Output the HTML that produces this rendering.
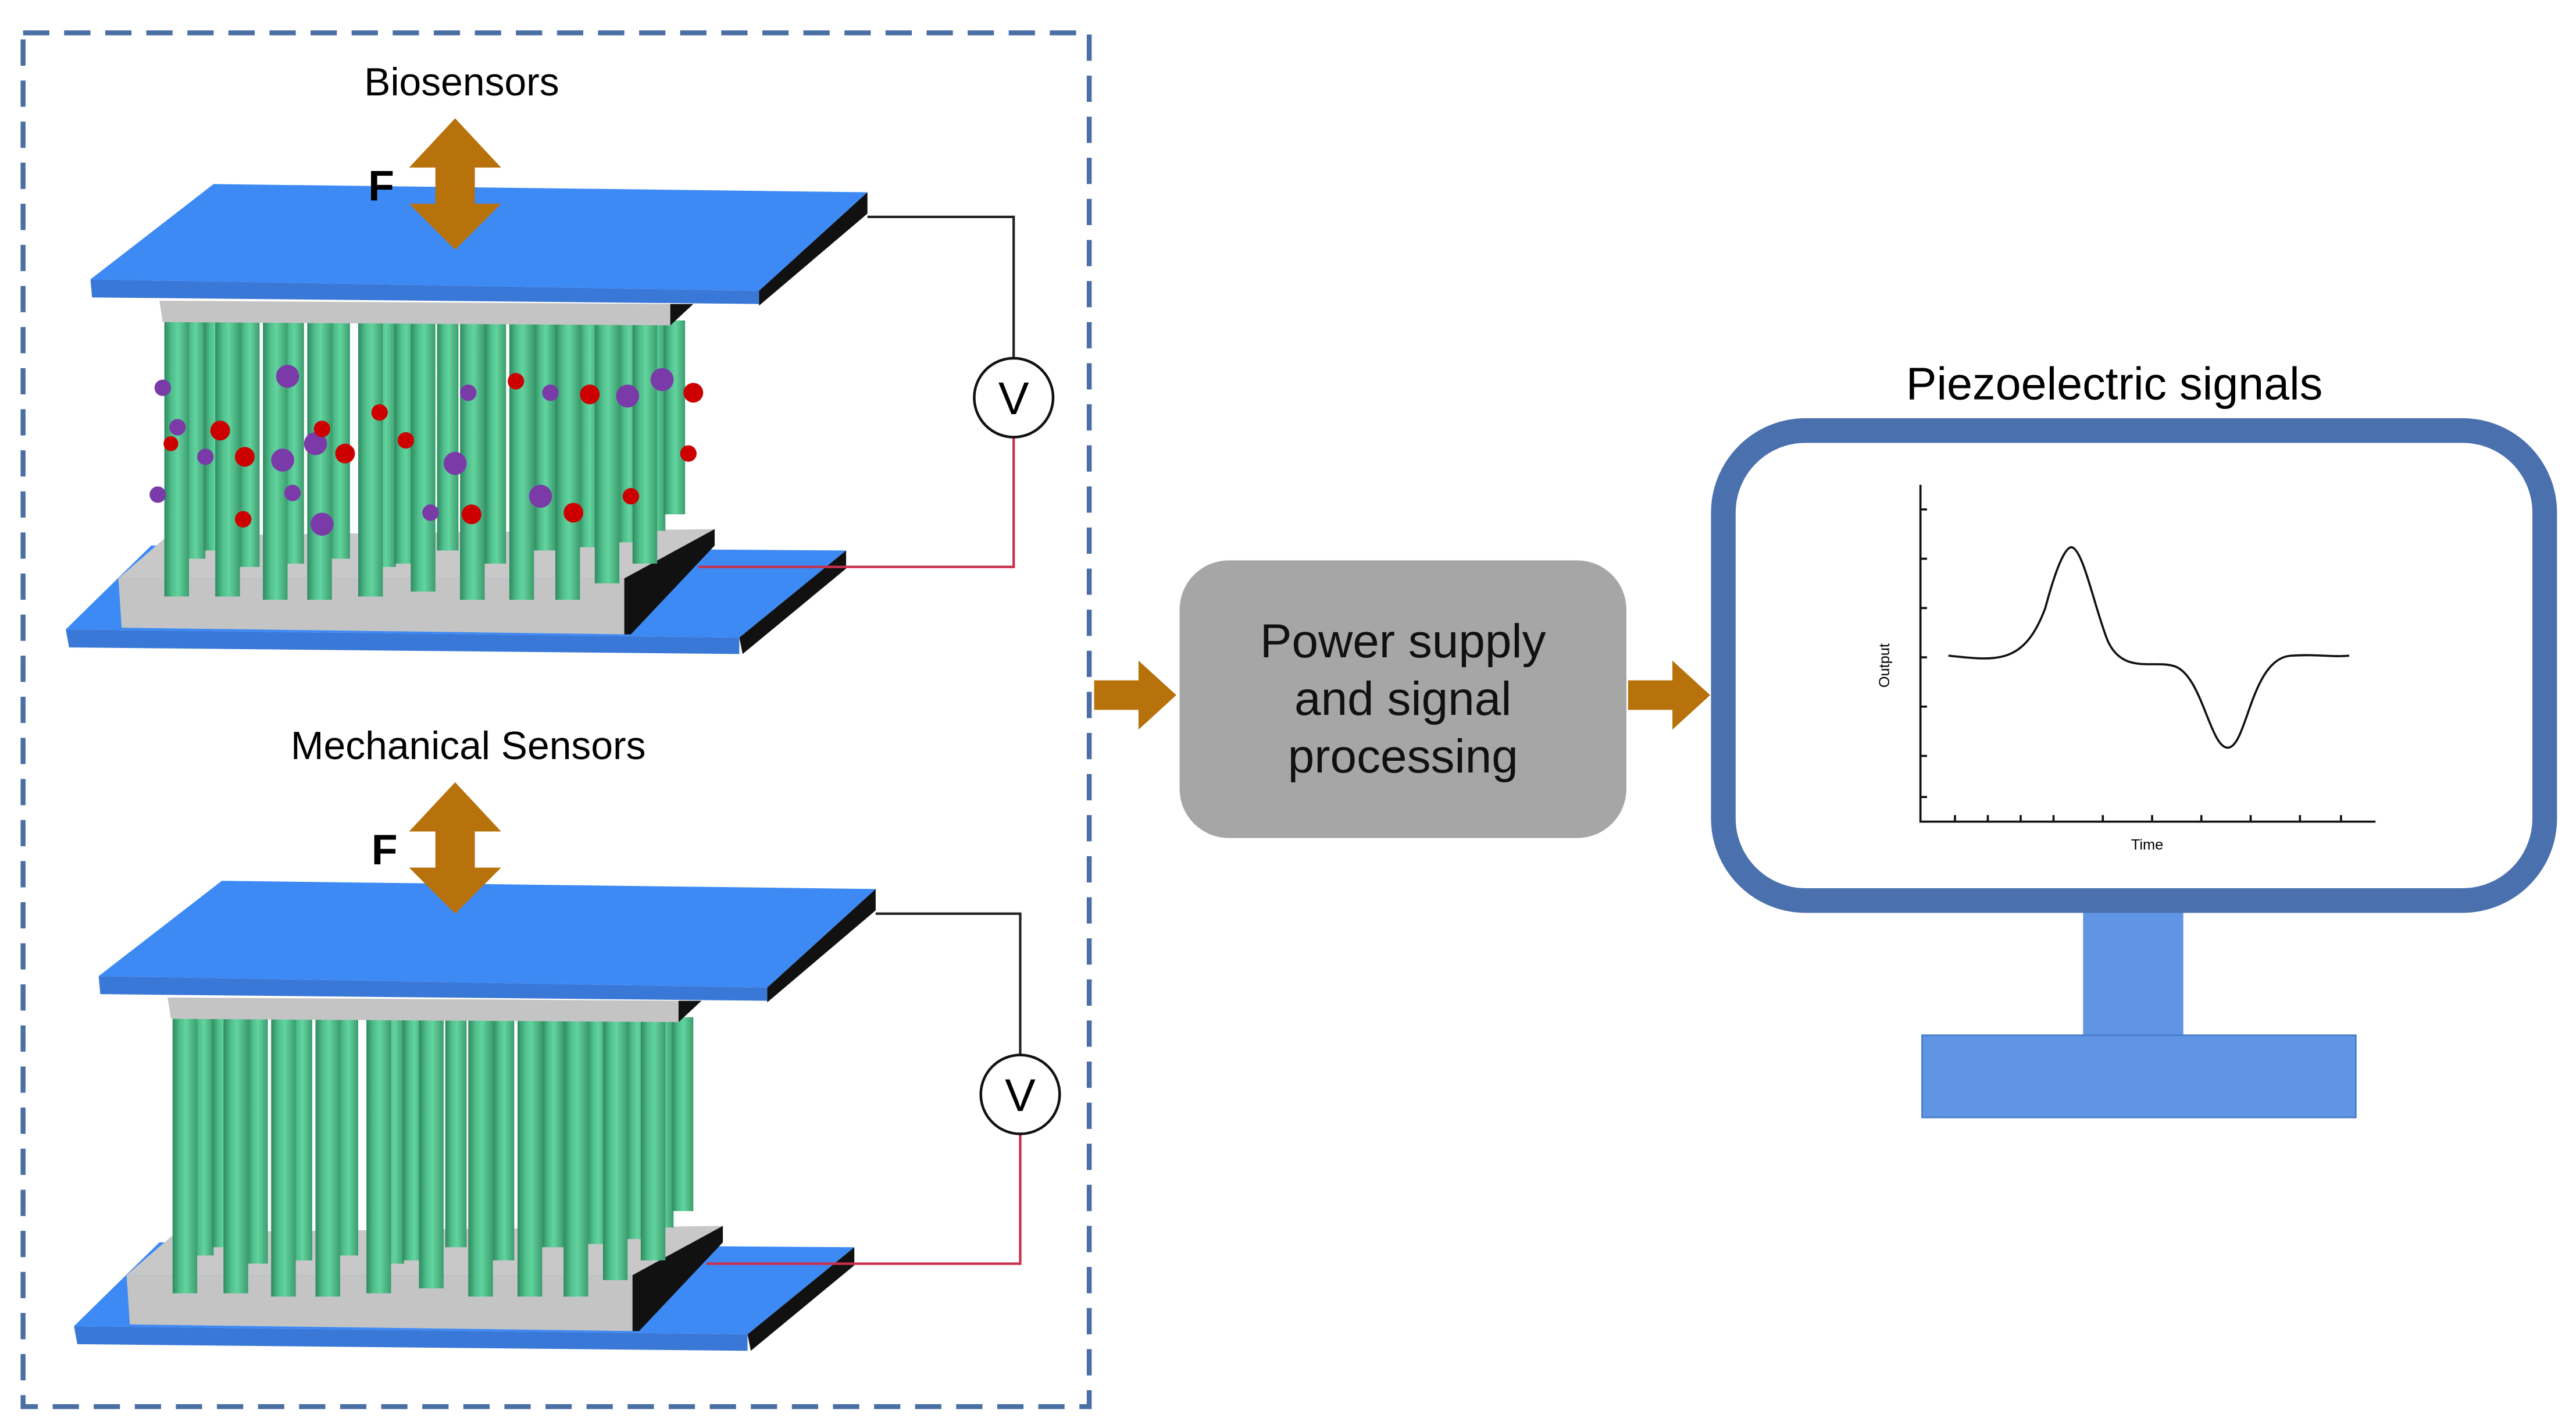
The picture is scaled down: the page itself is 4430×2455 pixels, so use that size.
<!DOCTYPE html>
<html><head><meta charset="utf-8"><style>
html,body{margin:0;padding:0;background:#fff;}
svg{display:block;}
text{font-family:"Liberation Sans",sans-serif;}
</style></head><body>
<svg width="4430" height="2455" viewBox="0 0 1568 869" xmlns="http://www.w3.org/2000/svg">
<defs>
<linearGradient id="rod" x1="0" x2="1" y1="0" y2="0">
<stop offset="0" stop-color="#2f8a5f"/><stop offset="0.3" stop-color="#4fbf8c"/><stop offset="0.55" stop-color="#62d49e"/><stop offset="1" stop-color="#3c9c6e"/>
</linearGradient>
<g id="dev">
<polygon points="40,383 92,332 515,335 450,388" fill="#3d8af5"/>
<polygon points="40,383 450,388 450,398 42,394" fill="#3a78d8"/>
<polygon points="450,388 515,335 515,346 452,398" fill="#111"/>
<polygon points="72,352 102,326 435,322 380,352" fill="#c8c8c8"/>
<polygon points="72,352 380,352 380,386 74,382" fill="#c4c4c4"/>
<polygon points="380,352 435,322 435,332 384,386 380,386" fill="#111"/>
<g fill="url(#rod)">
<rect x="112" y="195" width="13" height="145"/><rect x="124" y="195" width="13" height="140"/><rect x="145" y="195" width="13" height="150"/>
<rect x="172" y="195" width="13" height="148"/><rect x="200" y="195" width="13" height="145"/>
<rect x="228" y="195" width="13" height="150"/>
<rect x="240" y="195" width="13" height="148"/><rect x="266" y="195" width="13" height="140"/>
<rect x="295" y="195" width="13" height="148"/><rect x="325" y="195" width="13" height="140"/>
<rect x="352" y="195" width="13" height="138"/><rect x="376" y="195" width="13" height="135"/><rect x="392" y="195" width="13" height="128"/>
<rect x="404" y="195" width="13" height="118"/>
<rect x="100" y="195" width="15" height="168"/><rect x="131" y="195" width="15" height="168"/>
<rect x="160" y="195" width="15" height="170"/><rect x="187" y="195" width="15" height="170"/>
<rect x="218" y="195" width="15" height="168"/><rect x="250" y="195" width="15" height="165"/>
<rect x="280" y="195" width="15" height="170"/><rect x="310" y="195" width="15" height="170"/>
<rect x="338" y="195" width="15" height="170"/><rect x="362" y="195" width="15" height="160"/>
<rect x="385" y="195" width="15" height="148"/>
</g>
<polygon points="97,183 410,185 408,198 99,196" fill="#c4c4c4"/>
<polygon points="408,185 422,185 408,198" fill="#111"/>
<polygon points="55,170 130,112 528,117 462,177" fill="#3d8af5"/>
<polygon points="55,170 462,177 462,185 56,181" fill="#3a78d8"/>
<polygon points="462,177 528,117 528,130 462,186" fill="#111"/>
</g>
</defs>

<rect x="14" y="20" width="649" height="836" fill="none" stroke="#4a6fa5" stroke-width="3" stroke-dasharray="16,9"/>

<text x="281" y="58" font-size="24" text-anchor="middle">Biosensors</text>
<use href="#dev"/>
<g>
<circle cx="175" cy="229" r="7" fill="#7a3aa8"/><circle cx="99" cy="236" r="5" fill="#7a3aa8"/>
<circle cx="108" cy="260" r="5" fill="#7a3aa8"/><circle cx="104" cy="270" r="4.5" fill="#cc0000"/>
<circle cx="134" cy="262" r="6" fill="#cc0000"/><circle cx="125" cy="278" r="5" fill="#7a3aa8"/>
<circle cx="149" cy="278" r="6" fill="#cc0000"/><circle cx="172" cy="280" r="7" fill="#7a3aa8"/>
<circle cx="192" cy="270" r="7" fill="#7a3aa8"/><circle cx="196" cy="261" r="5" fill="#cc0000"/>
<circle cx="210" cy="276" r="6" fill="#cc0000"/><circle cx="231" cy="251" r="5" fill="#cc0000"/>
<circle cx="247" cy="268" r="5" fill="#cc0000"/><circle cx="277" cy="282" r="7" fill="#7a3aa8"/>
<circle cx="285" cy="239" r="5" fill="#7a3aa8"/><circle cx="314" cy="232" r="5" fill="#cc0000"/>
<circle cx="335" cy="239" r="5" fill="#7a3aa8"/><circle cx="359" cy="240" r="6" fill="#cc0000"/>
<circle cx="382" cy="241" r="7" fill="#7a3aa8"/><circle cx="403" cy="231" r="7" fill="#7a3aa8"/>
<circle cx="422" cy="239" r="6" fill="#cc0000"/><circle cx="419" cy="276" r="5" fill="#cc0000"/>
<circle cx="96" cy="301" r="5" fill="#7a3aa8"/><circle cx="148" cy="316" r="5" fill="#cc0000"/>
<circle cx="178" cy="300" r="5" fill="#7a3aa8"/><circle cx="196" cy="319" r="7" fill="#7a3aa8"/>
<circle cx="262" cy="312" r="5" fill="#7a3aa8"/><circle cx="287" cy="313" r="6" fill="#cc0000"/>
<circle cx="329" cy="302" r="7" fill="#7a3aa8"/><circle cx="349" cy="312" r="6" fill="#cc0000"/>
<circle cx="384" cy="302" r="5" fill="#cc0000"/>
</g>
<polygon points="277,72 305,102 289,102 289,124 305,124 277,152 249,124 265,124 265,102 249,102" fill="#b8720c"/>
<text x="232" y="122" font-size="26" font-weight="bold" text-anchor="middle">F</text>
<polyline points="528,132 617,132 617,218" fill="none" stroke="#222" stroke-width="1.5"/>
<polyline points="617,266 617,345 425,345" fill="none" stroke="#c8304a" stroke-width="1.5"/>
<circle cx="617" cy="242" r="24" fill="#fff" stroke="#111" stroke-width="1.6"/>
<text x="617" y="252" font-size="28" text-anchor="middle">V</text>

<text x="285" y="462" font-size="24" text-anchor="middle">Mechanical Sensors</text>
<use href="#dev" transform="translate(5,424)"/>
<polygon points="277,476 305,506 289,506 289,528 305,528 277,556 249,528 265,528 265,506 249,506" fill="#b8720c"/>
<text x="234" y="526" font-size="26" font-weight="bold" text-anchor="middle">F</text>
<polyline points="533,556 621,556 621,642" fill="none" stroke="#222" stroke-width="1.5"/>
<polyline points="621,690 621,769 430,769" fill="none" stroke="#c8304a" stroke-width="1.5"/>
<circle cx="621" cy="666" r="24" fill="#fff" stroke="#111" stroke-width="1.6"/>
<text x="621" y="676" font-size="28" text-anchor="middle">V</text>

<polygon points="666,414 693,414 693,402 716,423 693,444 693,432 666,432" fill="#b8720c"/>
<polygon points="991,414 1018,414 1018,402 1041,423 1018,444 1018,432 991,432" fill="#b8720c"/>

<rect x="718" y="341" width="272" height="169" rx="30" fill="#a6a6a6"/>
<g font-size="29" text-anchor="middle" fill="#111">
<text x="854" y="400">Power supply</text>
<text x="854" y="435">and signal</text>
<text x="854" y="470">processing</text>
</g>

<text x="1287" y="243" font-size="28" text-anchor="middle">Piezoelectric signals</text>
<rect x="1268" y="553" width="61" height="78" fill="#5f95e3"/>
<rect x="1170" y="630" width="264" height="50" fill="#5f95e3" stroke="#4a7ccc" stroke-width="1"/>
<rect x="1049" y="262" width="500" height="286" rx="50" fill="#fff" stroke="#4a70ae" stroke-width="15"/>
<g stroke="#111" stroke-width="1.3" fill="none">
<polyline points="1169,295 1169,500 1446,500"/>
<path d="M1186,399 C1215,402 1232,405 1245,370 C1253,340 1258,333 1261,333 C1268,334 1275,370 1283,390 C1292,410 1310,402 1322,405 C1340,408 1345,455 1356,455 C1368,455 1370,400 1395,399 C1410,398 1420,400 1430,399"/>
<path d="M1169,310h4M1169,340h4M1169,370h4M1169,400h4M1169,430h4M1169,460h4M1169,485h4 M1190,500v-4M1210,500v-4M1230,500v-4M1250,500v-4M1280,500v-4M1310,500v-4M1340,500v-4M1370,500v-4M1400,500v-4M1425,500v-4"/>
</g>
<text x="1307" y="517" font-size="9" text-anchor="middle">Time</text>
<text x="1150" y="405" font-size="9" text-anchor="middle" transform="rotate(-90 1150 405)">Output</text>
</svg>
</body></html>
